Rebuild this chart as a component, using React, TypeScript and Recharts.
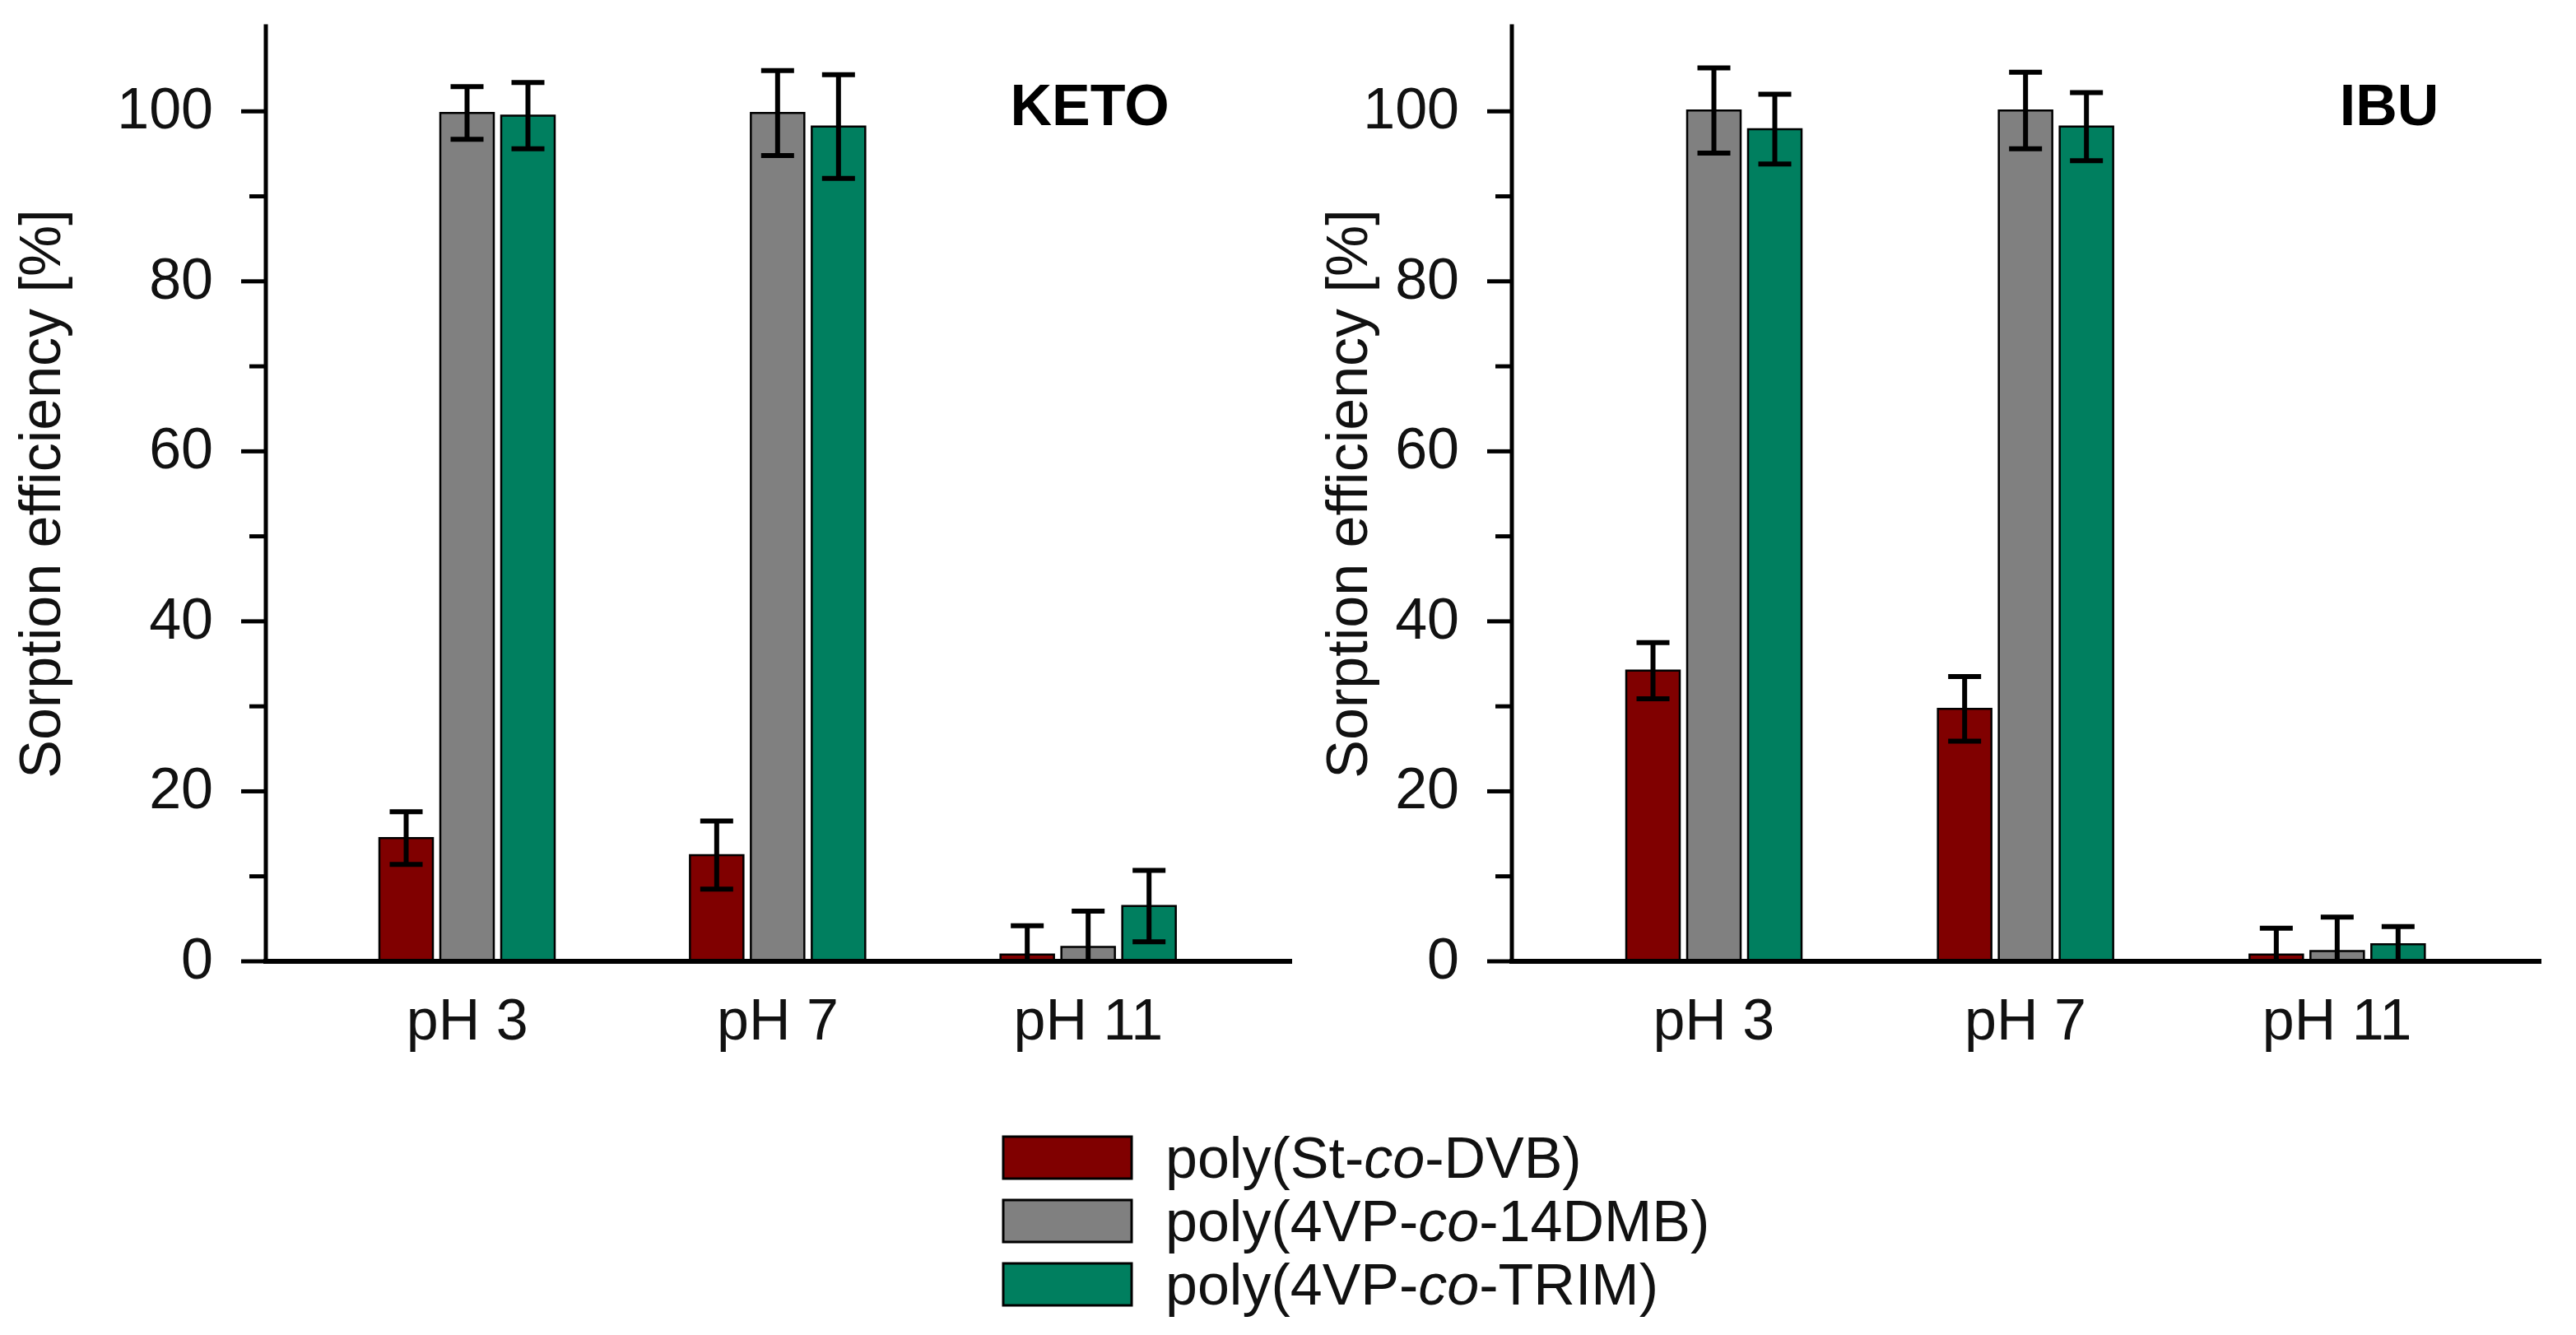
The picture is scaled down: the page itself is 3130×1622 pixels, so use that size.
import React from 'react';
import { BarChart, Bar, XAxis, YAxis, ErrorBar, Legend } from 'recharts';

// Sorption efficiency [%] of three polymer sorbents at three pH values
const categories = ['pH 3', 'pH 7', 'pH 11'];
const seriesNames = ['poly(St-co-DVB)', 'poly(4VP-co-14DMB)', 'poly(4VP-co-TRIM)'];
const seriesColors = ['#800000', '#808080', '#007f5f'];

// KETO (ketoprofen)
const ketoStDvb = [14.5, 12.5, 0.8];
const ketoStDvbErr = [3.1, 4.0, 3.4];
const keto14Dmb = [99.8, 99.8, 1.7];
const keto14DmbErr = [3.1, 5.0, 4.2];
const ketoTrim = [99.5, 98.2, 6.5];
const ketoTrimErr = [3.9, 6.1, 4.2];

// IBU (ibuprofen)
const ibuStDvb = [34.2, 29.7, 0.8];
const ibuStDvbErr = [3.3, 3.8, 3.1];
const ibu14Dmb = [100.1, 100.1, 1.2];
const ibu14DmbErr = [5.0, 4.5, 4.0];
const ibuTrim = [97.9, 98.2, 2.0];
const ibuTrimErr = [4.1, 4.0, 2.1];

const yTicks = [0, 10, 20, 30, 40, 50, 60, 70, 80, 90, 100];
const yLabelStep = 20;

const FONT = "'Liberation Sans', Arial, Helvetica, sans-serif";

// Error bars are not drawn below the x axis: the lower arm stops at zero.
function buildRows(values: number[][], errors: number[][]) {
  return categories.map((cat, i) => {
    const row: any = { cat };
    values.forEach((v, s) => {
      row['s' + s] = v[i];
      row['e' + s] = [Math.min(errors[s][i], v[i]), errors[s][i]];
    });
    return row;
  });
}

const ketoRows = buildRows([ketoStDvb, keto14Dmb, ketoTrim], [ketoStDvbErr, keto14DmbErr, ketoTrimErr]);
const ibuRows = buildRows([ibuStDvb, ibu14Dmb, ibuTrim], [ibuStDvbErr, ibu14DmbErr, ibuTrimErr]);

const YTick = (props: any) => {
  const { x, y, payload } = props;
  const major = payload.value % yLabelStep === 0;
  return (
    <g>
      <line x1={x - (major ? 30 : 20)} x2={x} y1={y} y2={y} stroke="#000" strokeWidth={5} />
      {major && (
        <text x={x - 64} y={y + 21} textAnchor="end" fontSize={70} fontFamily={FONT} fill="#111">
          {payload.value}
        </text>
      )}
    </g>
  );
};

const XTick = (props: any) => {
  const { x, y, payload } = props;
  return (
    <text x={x} y={y + 95} textAnchor="middle" fontSize={70} fontFamily={FONT} fill="#111">
      {payload.value}
    </text>
  );
};

function SeriesName({ name }: { name: string }) {
  const parts = name.split('-co-');
  return (
    <>
      {parts[0]}-<tspan fontStyle="italic">co</tspan>-{parts[1]}
    </>
  );
}

// Legend: swatch + name rows; the svg has headroom so the first row's text box fits
const LEGEND_PAD = 30;
const LegendBox = (props: any) => {
  const payload: any[] = props.payload && props.payload.length ? props.payload : [];
  const items = seriesNames.map((n, i) => {
    const p = payload.find((e) => e.value === n);
    return { name: n, color: p && p.color ? p.color : seriesColors[i] };
  });
  return (
    <svg width={900} height={300} style={{ display: 'block' }}>
      {items.map((it, i) => (
        <g key={it.name}>
          <rect
            x={2}
            y={LEGEND_PAD + 2 + i * 77}
            width={156}
            height={51}
            fill={it.color}
            stroke="#000"
            strokeWidth={3}
          />
          <text x={199} y={LEGEND_PAD + 52 + i * 77} fontSize={70} fontFamily={FONT} fill="#111">
            <SeriesName name={it.name} />
          </text>
        </g>
      ))}
    </svg>
  );
};

type PanelProps = {
  rows: any[];
  title: string;
  titleX: number;
  labelX: number;
  width: number;
  margin: { top: number; right: number; bottom: number; left: number };
  legend?: boolean;
};

function Panel({ rows, title, titleX, labelX, width, margin, legend }: PanelProps) {
  return (
    <BarChart width={width} height={1622} data={rows} margin={margin} barSize={65} barGap={9}>
      <XAxis
        dataKey="cat"
        xAxisId={0}
        height={100}
        padding={{ left: 56, right: 56 }}
        axisLine={{ stroke: '#000', strokeWidth: 6, strokeLinecap: 'square' }}
        tickLine={false}
        tickSize={0}
        tickMargin={0}
        tick={<XTick />}
        interval={0}
      />
      <XAxis
        dataKey="cat"
        xAxisId="top"
        orientation="top"
        height={0}
        axisLine={{ stroke: '#000', strokeWidth: 5, strokeLinecap: 'square' }}
        tickLine={false}
        tick={false}
      />
      <YAxis
        yAxisId={0}
        width={100}
        type="number"
        domain={[0, 110]}
        ticks={yTicks}
        interval={0}
        allowDataOverflow
        axisLine={{ stroke: '#000', strokeWidth: 5, strokeLinecap: 'square' }}
        tickLine={false}
        tickSize={0}
        tickMargin={0}
        tick={<YTick />}
      />
      <YAxis
        yAxisId="right"
        orientation="right"
        width={0}
        type="number"
        domain={[0, 110]}
        axisLine={{ stroke: '#000', strokeWidth: 5, strokeLinecap: 'square' }}
        tickLine={false}
        tick={false}
      />
      {seriesNames.map((n, s) => (
        <Bar
          key={n}
          dataKey={'s' + s}
          name={n}
          fill={seriesColors[s]}
          stroke="#000"
          strokeWidth={2.5}
          isAnimationActive={false}
        >
          <ErrorBar dataKey={'e' + s} width={20} strokeWidth={6} stroke="#000" direction="y" />
        </Bar>
      ))}
      <text
        x={labelX}
        y={600}
        transform={`rotate(-90 ${labelX} 600)`}
        textAnchor="middle"
        fontSize={70}
        fontFamily={FONT}
        fill="#111"
      >
        Sorption efficiency [%]
      </text>
      <text x={titleX} y={152} textAnchor="middle" fontSize={70} fontWeight="bold" fontFamily={FONT} fill="#000">
        {title}
      </text>
      {legend && (
        <Legend
          layout="horizontal"
          verticalAlign="middle"
          align="center"
          content={<LegendBox />}
          wrapperStyle={{ position: 'absolute', left: 1217, top: 1379 - LEGEND_PAD, width: 900, height: 300 }}
        />
      )}
    </BarChart>
  );
}

export default function App() {
  return (
    <div style={{ position: 'absolute', left: 0, top: 0, width: 3130, height: 1622, background: '#fff', overflow: 'hidden' }}>
      <div style={{ position: 'absolute', left: 0, top: 0, width: 1580, height: 1622, zIndex: 2 }}>
        <Panel
          rows={ketoRows}
          title="KETO"
          titleX={1324}
          labelX={73}
          width={1580}
          margin={{ top: 32, right: 13, bottom: 354, left: 223 }}
          legend
        />
      </div>
      <div style={{ position: 'absolute', left: 1580, top: 0, width: 1550, height: 1622, zIndex: 1 }}>
        <Panel
          rows={ibuRows}
          title="IBU"
          titleX={1323}
          labelX={81}
          width={1550}
          margin={{ top: 32, right: 45, bottom: 354, left: 157 }}
        />
      </div>
    </div>
  );
}
